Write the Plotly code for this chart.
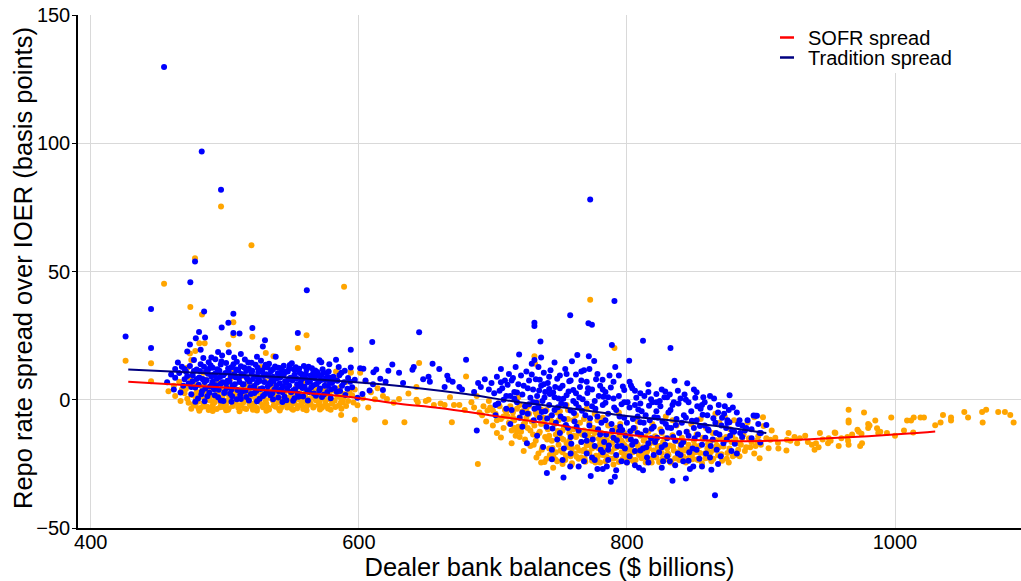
import plotly.graph_objects as go

# ---------------- data ----------------
# SOFR spread observations: (dealer bank balances $bn, spread bp)
SOFR_OUTLIERS = [(454.7,45.2),(474.3,36.2),(483,33.2),(477.8,55.2),(497.2,75.3),(519.9,60.2),(589,44.1),
    (506.4,30.2),(506.4,25.1),(520.6,24.6),(561,25.1),(554.5,20.2),(502.7,21.5),(485,22),(481,22),
    (530.6,18.2),(536.3,17),(426,15.2),(445,14.2),(445,7.2),(772.6,39),(790.7,20.2),(731,17),(731.5,14),
    (645,14.3),(680,9.1),(586.8,-5.9),(597,-7.8),(619.6,-8.8),(634,-8.8),(669.4,-8.8),(688.8,-25),(706,-14.7),
    (474,18),(478,19),(472,12.5),(475,15.5)]
SOFR_LOW = [(458,3.3),(462,5.5),(466,7),(468,4),(463,1.5),(470,2.5),(467,-0.5),
    (471,4.2),(473,-1.2),(475,-3.5),(476,1.8),(477,6.3),(478,-2.2),(479,3),(474,8.5),(472,0.4),(480,-0.8),
    (481,2.6),(482,-3.2),(483,5.1),(484,-1.5),(485,0.9),(486,7.8),(487,-2.7),(488,3.8),(489,-0.3),(490,1.7),(484,10.5),(488,-4),
    (491,-2.1),(492,4.4),(493,0.2),(494,-3.6),(495,2.9),(496,6.6),(497,-1.2),(498,1.1),(499,-2.8),(500,3.5),(493,9),(497,-0.4),(491,5.8),
    (501,-1.7),(502,2.2),(503,-3.3),(504,0.6),(505,5.4),(506,-2.4),(507,1.5),(508,-0.6),(509,3.9),(510,-3),(504,8.2),(507,11.3),(502,-0.2),
    (511,0.8),(512,-2.2),(513,4.7),(514,-1),(515,2),(516,-3.6),(517,6.1),(518,-0.4),(519,1.3),(520,-2.6),(513,9.4),(518,3.2),(516,0.1),
    (521,5.3),(522,-1.4),(523,0.4),(524,-3.2),(525,2.7),(526,-0.8),(527,4.1),(528,-2),(529,1),(530,7.3),(524,-4.2),(527,12.8),(522,2),
    (531,-1.6),(532,3.1),(533,-3.8),(534,0.7),(535,5.6),(536,-0.3),(537,2.4),(538,-2.7),(539,1.6),(540,-1),(534,8.8),(538,4.5),
    (541,0.2),(542,-3.1),(543,3.6),(544,-1.8),(545,1),(546,6.2),(547,-2.4),(548,0.6),(549,2.9),(550,-3.5),(544,10),(548,-0.5),
    (551,1.8),(552,-1.2),(553,4.6),(554,-3.3),(555,0.3),(556,2.5),(557,-2),(558,7),(559,-0.7),(560,1.2),(553,12.5),
    (561,-2.6),(562,3.3),(563,0.4),(564,-1.5),(565,5.2),(566,-3),(567,1.5),(568,-0.2),(569,2.4),(570,-2),(566,9.5),
    (571,0.9),(572,4),(573,-2.5),(574,1.7),(575,-0.8),(576,6.5),(577,-3.4),(578,2.8),(579,0),(580,-1.6),
    (581,3.6),(582,-0.4),(583,8),(584,1.3),(585,-2.2),(586,4.8),(587,0.2),(588,-1),(589,2.2),(590,6.8),
    (592,-0.5),(594,10.8),(595,1.8),(597,4),(599,-2.1),(601,10.5),(603,0.6),(605,7.2),(607,-3),(609,2.9),(612,0.2),(614,4.5),
    (583,11),(594,10.5)]
SOFR_LOW_2 = [(476.5,-1.9),(478.5,0.8),(480.5,-3.4),(482.5,1.3),(484.5,-2.6),(486.5,3),(488.5,0.1),(490.5,-3.8),(492.5,-1),(494.5,2.3),
    (496.5,-2.9),(498.5,4.5),(500.5,-0.9),(502.5,-3.9),(504.5,1.9),(506.5,-1.4),(508.5,2.9),(510.5,-2.1),(512.5,0.6),(514.5,-3.3),
    (516.5,3.9),(518.5,-1.8),(520.5,1.6),(522.5,-3.7),(524.5,0.1),(526.5,2.6),(528.5,-2.9),(530.5,-0.3),(532.5,-3.1),(534.5,1.4),
    (536.5,-2.2),(538.5,0.9),(540.5,-3.6),(542.5,-0.7),(544.5,2.6),(546.5,-3),(548.5,1.1),(550.5,-1.5),(552.5,3.2),(554.5,-2.4),
    (556.5,-0.2),(558.5,-3.6),(560.5,2.8),(562.5,-1.9),(564.5,0.7),(566.5,-2.6),(568.5,3.8),(570.5,-0.9),(572.5,-3.1),(574.5,0.3),
    (576.5,-2.3),(578.5,1.5),(580.5,-0.5),(582.5,-2.8),(584.5,2.5),(586.5,-1.3),(588.5,0.8),(590.5,-2.4),(593,3.1),(596,-1.1),
    (485,5.5),(495,6.8),(505,3.3),(515,5.8),(525,4.2),(535,3.4),(545,4.7),(555,5.2),(565,3.6),(575,4.4),
    (481,-4.3),(491,-4.4),(501,-4.1),(511,-4.5),(521,-3.9),(531,-4.3),(541,-4.2),(551,-3.9),(561,-4.1),(571,-3.8),(579,-3.9),(587,-3.5)]
SOFR_MID = [(618,1.5),(621,0.3),(626,-1.2),(630,0.3),(637,2.4),(643,5),(643,0),(644,-1),(650,-0.5),(652,0),
    (656,-2),(661,-1.5),(664,-2),(668,1),(671,-2),(675,-2),(679,-4),(684,-1),(686,-3),(688,1.5),(690,-5),(693,-2.5),(696,-4.2)]
SOFR_HIGH = [(692,-6),(695,-8.5),(698,-3),(700,-10),(702,-5.5),(704,-1.5),(706,-7.5),(708,-11),(709,-4),(703,-13),(697,-0.5),
    (711,-6.5),(712,-9),(713,-2.5),(714,-12),(715,-5),(716,-8),(717,-14),(718,-3.5),(719,-10.5),(720,-6.8),(714,-17),(719,1),
    (721,-12.5),(722,-4.5),(723,-9.5),(724,-15.5),(725,-7),(726,-11),(727,-2.3),(728,-18),(729,-8.5),(730,-13.5),(723,-20),(727,-5.5),
    (731,-10),(732,-16),(733,-6),(734,-21),(735,-12.5),(736,-3.8),(737,-18.5),(738,-9),(739,-14.5),(740,-23),(733,-1),(736,-24.5),(738,-7),
    (741,-11.5),(742,-19),(743,-6.5),(744,-16),(745,-21.8),(746,-9.5),(747,-13.5),(748,-24),(749,-17.5),(750,-4.5),(742,-14),(745,-26.5),(747,-20.5),(749,-8),
    (751,-15),(752,-20.5),(753,-10.5),(754,-23.5),(755,-17),(756,-7.5),(757,-13),(758,-22),(759,-19),(760,-11.5),(752,-25),(755,-2),(757,-16),(759,-24.8),
    (761,-21),(762,-14.5),(763,-18.5),(764,-23),(765,-9),(766,-16.5),(767,-20),(768,-12),(769,-24.2),(770,-17.8),(762,-6),(764,-13),(766,-22.5),(768,-19.5),(770,-3.5),
    (771,-14),(772,-20.8),(773,-16.5),(774,-23.8),(775,-11),(776,-18.3),(777,-21.8),(778,-8),(779,-15.2),(780,-24.5),(772,-12.5),(774,-19),(776,-5.5),(778,-22.5),(780,-17),
    (781,-13),(782,-21.5),(783,-18),(784,-24),(785,-15.8),(786,-10),(787,-20),(788,-23),(789,-16.8),(790,-12.2),(782,-7),(784,-19.5),(786,-22.8),(788,-14),(790,-25.2),
    (791,-18.8),(792,-22),(793,-15),(794,-24.3),(795,-9.5),(796,-20.5),(797,-17),(798,-13),(799,-23.5),(800,-19.5),(792,-11),(794,-5),(796,-16),(798,-21.5),(800,-24.5),
    (801,-15.5),(802,-22.5),(803,-18),(804,-12),(805,-24),(806,-20),(807,-16.8),(808,-8.5),(809,-21.5),(810,-14),(802,-19.5),(804,-23.5),(806,-11),(808,-17.5),
    (811,-22.8),(812,-18.5),(813,-15),(814,-24.5),(815,-20.3),(816,-12.5),(817,-17.2),(818,-23),(819,-9.5),(820,-19.8),(812,-21),(814,-14.5),(818,-16.2),
    (821,-14.2),(822,-22.5),(823,-18.3),(824,-24.3),(825,-11.5),(826,-20.8),(827,-16.5),(828,-23.5),(829,-6.5),(830,-19),(822,-15.5),(826,-13),
    (831,-21.5),(832,-17.8),(833,-24),(834,-13.8),(835,-19.8),(836,-22.8),(837,-10),(838,-16.2),(839,-23.5),(840,-18.5),(834,-8),(838,-20.5),
    (841,-14.8),(842,-22),(843,-19.3),(844,-24.5),(845,-12.5),(846,-17.5),(847,-21.2),(848,-9.5),(849,-23.2),(850,-16),(844,-19.8),
    (851,-20.5),(852,-13.5),(853,-23.5),(854,-18),(855,-7.5),(856,-24.8),(857,-15.2),(858,-21),(859,-11),(860,-19),
    (861,-22.6),(862,-16.5),(863,-24),(864,-13),(865,-19.5),(866,-5.5),(867,-17.8),(868,-21.6),(869,-9),(870,-15),
    (871,-23.8),(872,-18.2),(873,-6.5),(874,-14.5),(875,-20.8),(876,-24.5),(877,-11.5),(878,-16.5),(879,-22),(880,-8),
    (881,-15.5),(883,-19.5),(885,-17.5),(887,-13.5),(889,-18.5),(890,-8.9),(891,-15),(893,-16.5),(895,-6.8),(896,-18),(898,-14.2),(899,-22.8),(900,-17.5),
    (901.5,-6.8),(902,-10.2),(904,-15),(905.7,-18.9),(907,-15.6),(908,-12),(910.7,-14.8),(912.7,-16.8),(913,-19)]
SOFR_HIGH_2 = [(730.5,-17.5),(732.5,-22.5),(734.5,-13),(736.5,-19.5),(738.5,-24.3),(740.5,-15.5),(742.5,-21.5),(744.5,-18.8),(746.5,-23.2),(748.5,-12.2),
    (750.5,-19.8),(752.5,-15.5),(754.5,-21.8),(756.5,-18.5),(758.5,-25.5),(760.5,-14),(762.5,-22.2),(764.5,-19.8),(766.5,-13.5),(768.5,-23),
    (770.5,-20.5),(772.5,-17.5),(774.5,-14.8),(776.5,-24.5),(778.5,-18.8),(780.5,-21.2),(782.5,-15.5),(784.5,-22),(786.5,-17.5),(788.5,-20.3),
    (790.5,-22.8),(792.5,-18.5),(794.5,-14),(796.5,-23.2),(798.5,-17.8),(800.5,-21.8),(802.5,-14.8),(804.5,-20.5),(806.5,-23.5),(808.5,-18.8),
    (810.5,-21.3),(812.5,-16),(814.5,-22),(816.5,-19),(818.5,-24.5),(820.5,-16.8),(822.5,-20),(824.5,-18),(826.5,-23),(828.5,-15),
    (830.5,-21),(832.5,-24.5),(834.5,-18.2),(836.5,-15.8),(838.5,-22),(840.5,-20.2),(842.5,-16.5),(844.5,-23),(846.5,-19.5),(848.5,-21.8),
    (850.5,-17.8),(852.5,-23.2),(854.5,-20.8),(856.5,-14.8),(858.5,-22.8),(860.5,-17.2),(862.5,-20.5),(864.5,-23),(866.5,-15.8),(868.5,-18.5),
    (870.5,-21.2),(872.5,-16),(874.5,-23),(876.5,-19),(878.5,-13.8),(880.5,-21.5),(882,-17),(884,-22),(886,-15),(888,-20),(892,-18.5),(895,-21),(897,-16),
    (716,-11),(720,-14.5),(724,-9),(728,-12),(732,-5),(736,-9.5),(740,-4),(744,-8.5),(748,-5),(752,-12),(756,-4),(760,-8),(764,-3),(768,-7.5),(772,-9),(776,-13),
    (700,-4.2),(705,-2.5),(710,-4.8),(715,-7),(720,-2),(725,-4),(703,-8),(708,-6.5),(712,-3.8),(718,-12.5)]
SOFR_TAIL = [(919.4,-15.6),(919,-19.8),(920.6,-13),(922,-16),(925,-14.5),(927,-17),(929,-15),(933,-14),(935,-16.5),
    (938,-17.5),(940,-19.5),(941,-17),(943,-18.5),(944,-13),(946,-15.5),(950.6,-15),(950,-17),(952,-16),(955,-12.8),
    (955.5,-13),(958,-18),(960,-15),(964.5,-14.5),(965,-16),(965.4,-17.5),(965.4,-3.9),(965.4,-8.1),(965.4,-8.9),(968,-13.5),
    (972,-11.7),(974,-18),(975.4,-17),(973,-12.5),(975,-13.3),(976.9,-5),(980,-9.5),(980,-11),(981,-10),(985.3,-8.1),
    (986.6,-11.1),(987.5,-13),(989,-12.5),(994,-13),(997.2,-6.9),(1000,-14),(1006.7,-12),(1009,-8.1),(1012,-8.1),
    (1013.6,-12.8),(1014,-6.9),(1019,-6.9),(1021.6,-6.9),(1030,-9.9),(1034,-8.9),(1035.8,-5.9),(1041.8,-6.9),(1041.8,-8.1),
    (1051.7,-4.8),(1054.5,-6.9),(1065,-4.8),(1068,-3.9),(1065.4,-8.9),(1077,-4.8),(1082,-4.8),(1086,-5.9),(1088.5,-8.9)]

# Tradition spread observations
TRAD_OUTLIERS = [(454.7,129.7),(482.8,96.8),(497.2,81.9),(477.8,53.9),(474.3,45.8),(561.2,42.7),(426,24.7),
    (445,35.4),(445,20.2),(484.6,34.4),(506.4,33.5),(502.7,30),(497.7,28.2),(506.4,26),(511,25.8),(520.6,28),
    (480.8,26.4),(485.3,24.3),(478.4,24),(530,23.2),(528.4,20.8),(554.5,26),(772.6,78.1),(790.7,38.5),(757.7,32.9),
    (731,30),(731,28.8),(771.3,29.8),(773.9,29.2),(735.5,22.7),(788.8,21.3),(812,23),(832.5,20.2),(594,19.5)]
TRAD_LOW = [(457,6.8),(460,9.8),(463,12),(466,10.4),(468,12.9),(470,8),(462,4),(469,5.5),(465,14.5),
    (471,11),(472,18.8),(473,6.3),(474,13.2),(475,2.1),(476,9.6),(477,15.5),(478,4.8),(479,11.8),(480,0.5),(474,21.5),(478,-0.8),(476,7.2),
    (481,8.7),(482,13.8),(483,3.3),(484,16.3),(485,6.9),(486,10.9),(487,1.4),(488,14.6),(489,5.2),(490,9.1),(482,19.5),(485,-0.6),(488,12),(484,7.8),
    (491,12.5),(492,4.1),(493,15.8),(494,8.2),(495,1),(496,11.3),(497,6.2),(498,17.3),(499,9.6),(500,3),(493,10.2),(497,13.7),(495,18.6),(499,-0.5),(491,7),
    (501,14.3),(502,7.4),(503,10.8),(504,2.3),(505,12.7),(506,5.5),(507,16.5),(508,8.8),(509,0.2),(510,11.5),(503,18.5),(505,4),(507,9.9),(509,14.8),(501,6.3),
    (511,6.9),(512,13.1),(513,3.2),(514,9.5),(515,15.7),(516,1.1),(517,7.9),(518,12.1),(519,4.8),(520,10.2),(512,17.8),(514,6),(516,11.2),(518,-0.3),(520,14.4),
    (521,8.1),(522,2.6),(523,13.6),(524,6.6),(525,10.7),(526,0.4),(527,15.2),(528,4.5),(529,9.3),(530,12.8),(522,5.4),(524,16.8),(526,7.3),(528,11.4),(530,2.2),
    (531,9.9),(532,5.2),(533,14),(534,1.8),(535,7.6),(536,11.9),(537,3.9),(538,16.8),(539,8.4),(540,0.9),(532,12.6),(534,6.1),(536,9),(538,4.3),(540,12.5),
    (541,6.4),(542,10.6),(543,2.9),(544,13.3),(545,7.2),(546,-0.2),(547,11),(548,5.6),(549,8.6),(550,14.2),(542,4.2),(544,9.8),(546,6.7),(548,12.2),
    (551,3.6),(552,9.7),(553,12.7),(554,6),(555,1.2),(556,10.4),(557,7.8),(558,4.6),(559,13.2),(560,8.5),(552,0.6),(554,11.6),(556,5.3),(558,9.1),
    (561,11.8),(562,6.8),(563,3),(564,9.4),(565,12.3),(566,5.7),(567,8.4),(568,1.6),(569,10.8),(570,7),(562,-0.3),(566,10.5),
    (571,4.4),(572,9.6),(573,11.9),(574,2),(575,7.7),(576,10.3),(577,5.4),(578,8.7),(579,0.6),(580,6.5),(570.6,15.4),
    (581,9),(582,4.6),(583,15.6),(584,7.4),(586,3.4),(587,10.5),(589,6.8),(590,1.9),(592,8.5),(594,12.6),(595,4.9),
    (597,7.8),(599,0.8),(601,12.3),(603.4,12.1),(602.7,2.2),(605,7.5),(608,3.6),(610,22.5),(610.9,10.7),(610.6,6),
    (613,11.8),(616,8.2),(620,7),(618,3.8)]
TRAD_LOW_2 = [(480.5,5.8),(481.5,11.2),(482.5,2.1),(483.5,8.1),(484.5,12.9),(485.5,4.4),(486.5,7.6),(487.5,10.1),(488.5,2.7),(489.5,13.4),
    (490.5,6.1),(491.5,9.7),(492.5,1.8),(493.5,5.7),(494.5,11.9),(495.5,3.9),(496.5,8.9),(497.5,14.9),(498.5,6.8),(499.5,2.6),
    (500.5,10.4),(501.5,4.6),(502.5,12.2),(503.5,7.1),(504.5,9.2),(505.5,1.4),(506.5,13.8),(507.5,6),(508.5,11.8),(509.5,3.8),
    (510.5,8.4),(511.5,1.9),(512.5,10),(513.5,5.9),(514.5,12.6),(515.5,3.5),(516.5,8.6),(517.5,14.5),(518.5,7),(519.5,2.2),
    (520.5,11.3),(521.5,5),(522.5,9.1),(523.5,3.4),(524.5,12.5),(525.5,7.9),(526.5,4.2),(527.5,10.9),(528.5,1.5),(529.5,6.9),
    (530.5,13.6),(531.5,3.1),(532.5,9.4),(533.5,6.5),(534.5,11.1),(535.5,2.5),(536.5,7.3),(537.5,13),(538.5,5.6),(539.5,10.3),
    (540.5,3.2),(541.5,8.8),(542.5,12.4),(543.5,5.3),(544.5,1.2),(545.5,10.9),(546.5,4.3),(547.5,8),(548.5,13.5),(549.5,2.9),
    (550.5,7.5),(551.5,11.9),(552.5,4.1),(553.5,8.3),(554.5,2.3),(555.5,12.1),(556.5,6.4),(557.5,9.9),(558.5,1.3),(559.5,5.1),
    (560.5,10.1),(561.5,3.7),(562.5,12.9),(563.5,7.2),(564.5,4.9),(565.5,8.9),(566.5,2.4),(567.5,11.4),(568.5,6.1),(569.5,9.5),
    (570.5,3.6),(571.5,7.6),(572.5,1.1),(573.5,10.6),(574.5,5.5),(575.5,8.4),(576.5,3),(577.5,11),(578.5,6.9),(579.5,4.1),
    (581.5,7.9),(583.5,3.1),(585.5,9.6),(587.5,5.5),(589.5,11.3),(591.5,4.3),(593.5,7),(585,12.8),(578,13.8),(572,14.6),
    (490,16.5),(497,-0.3),(505,-0.8),(512,0.3),(524,-0.6),(536,0.2),(543,-0.9),(551,-0.4),(463,8.6),(467,2.8),(470,12),
    (472,9.3),(475,5),(477,11.2),(479,8.1)]
TRAD_MID = [(622,11.3),(625,13.7),(630,10.5),(633,6.5),(640,11.7),(641,12.8),(645,26.3),(648,8),(652,9),(653,7),
    (655,14),(660,12),(664,5),(666,9.4),(667,7.8),(670,7),(675,5),(677,4),(680,15.6),(686,3),(688,-12),(689,6.5),
    (691,5),(694,8),(697,4)]
TRAD_HIGH = [(699,6.5),(701,2.5),(703,9),(704,-1.5),(706,12),(707,4.5),(708,0),(709,7.5),(710,-3.5),(702,-6),(705,3.5),
    (711,5.8),(712,10),(713,1.5),(714,-4),(715,8.5),(716,3),(717,12.8),(718,-1),(719,6),(720,-7),(719.6,17.6),(713,-9.5),(716,0.5),
    (721,9.5),(722,2),(723,5.5),(724,-2.5),(725,11),(726,-5.5),(727,7.5),(728,0.8),(729,14),(730,4),(725.4,-17),(722,-10.5),(727,-1.8),(729,9.8),
    (731,-3.5),(732,8),(733,1.5),(734,12.8),(735,-7),(736,5.5),(737,-0.5),(738,10.5),(739,3),(740,-10.5),(731,15.5),(733,-14),(735,7.8),(737.5,-18.4),(739,-4.5),(736,16.5),
    (741,6.5),(742,-2),(743,11.5),(744,-6),(745,2.8),(746,14.5),(747,-9),(748,8.2),(749,0.5),(750,-13),(740.3,-28.6),(744,-23.2),(742,4.2),(746,-4),(748,-15.5),(750,9.5),
    (751,-1.5),(752,5.5),(753,-7.5),(754,12),(755,1.8),(756,-11),(757,7.2),(758,-4.2),(759,15),(760,-0.5),(752.7,-30.3),(757.7,-26),(753,-19),(755,10),(758,-14.5),(760,3.8),
    (761,-8.5),(762,9.8),(763,17.4),(764,-3),(765,5),(766,-16.5),(767,0.2),(768,11.5),(769,-6),(770,-21),(762,2.5),(764,-12),(766,7.5),(768,-24),(770,-1.5),
    (771,4.5),(771.6,17),(772,-10),(773,-29.7),(774,-2.5),(775.6,15.1),(776,-18),(777,8),(778,-6.5),(779,1.5),(780,-13.5),(772,12),(774,-22.5),(776,-0.5),(778,-27),(780,5.5),
    (781,-9),(781.8,7.8),(782,-2),(783,-16.5),(784,3),(785,-26),(786,-5.5),(787,9.5),(788,-32),(789,-12),(790,0.5),(782,-20.5),(784,-8),(786,-23.5),(788,4.8),(790,-14.8),(784,-1.2),
    (791,-30),(791.3,12.8),(792,-4),(793,-18),(794,1.5),(795,-10.5),(796,-24),(797,5.2),(798,-7),(799,-14),(800,-24.5),(801.7,15.2),(792,-21.5),(794,-12.5),(796,-1.8),(798,3.8),(800,-9),
    (802,-3),(803,-15.5),(804,4.5),(805,-11),(806,-20),(807,0.8),(808,-6.5),(809,-26.5),(810,2.5),(804,-17.5),(806,-2),(808,-13),(810,-8.8),(803,5.6),
    (811,-4.5),(812,-19),(813,1.5),(814,-12),(815,-22.5),(816,3),(817,-8),(818,-15),(819,-1),(820,-10.5),(812,-27.5),(814,-6),(816,-17),(818,0.2),
    (821,-16.5),(822,2.2),(823,-7),(824,-20.5),(825,-2.5),(826,-12.5),(827,-24),(828,1),(828.6,3.2),(829,-9.5),(830,-15),(822,-4.5),(826,-18.5),
    (831,-5),(832,-24),(833,-11),(834,-31.6),(835,-1),(835.5,7.4),(836,-16),(837,-7.5),(838,-21),(839,-13),(840,0.5),(832,2),(834,-2),
    (841,-9),(842,-24),(843,2),(844,-30.7),(845,6.4),(846,-14),(847,-27),(848,-4.5),(849,-19),(850,-11),(842,-16.5),(846,-1),(849.5,-26),(844,-7),
    (851,0.8),(852,-8),(853,-13.5),(854,-23),(855,-3.5),(856,-17.5),(857,1),(858,-10),(859,-21),(860,-6),(852,2.9),(858,-1),
    (861,-12),(862,-3),(863,-27.3),(864,-15.5),(865,0.5),(865.7,-37.2),(866,-9),(867,-19.5),(868,-5),(869,-13.5),(870,-22),
    (871,-7),(872,-17),(873,-2.5),(874,-11),(875,-9),(875,-8),(876,-4),(876.6,1.8),(877,-14),(878,-20),(879,-3),(880,-12.5),(882,-21),(882,-5),
    (884,-8),(884.5,-13),(886,-10),(888,-12),(889,-11),(894.5,-6.1),(896,-6.2),(897,-6.2),(898,-9.5),(899,-13),(899.5,-16.7),(900,-13),(904,-9.8),(893,-15)]
TRAD_HIGH_2 = [(730.5,-8),(732.5,-1.2),(734.5,3.6),(736.5,-4.8),(738.5,0.9),(740.5,-7.3),(742.5,2.2),(744.5,-11.2),(746.5,5),(748.5,-2.9),
    (750.5,-6.5),(752.5,0.4),(754.5,-9.8),(756.5,3.2),(758.5,-17.2),(760.5,-5.2),(762.5,-10.5),(764.5,0.9),(766.5,-4.3),(768.5,-13.8),
    (770.5,2.6),(772.5,-7.2),(774.5,-15.5),(776.5,-3.5),(778.5,-11.5),(780.5,-19.5),(782.5,1.2),(784.5,-13.5),(786.5,-17.8),(788.5,-9.5),
    (790.5,-3),(792.5,-15.8),(794.5,-6.5),(796.5,-11.8),(798.5,-19),(800.5,-1),(802.5,-12.3),(804.5,-7.5),(806.5,-16.3),(808.5,-3.8),
    (810.5,-13.5),(812.5,-9),(814.5,-18.5),(816.5,-2.3),(818.5,-11.3),(820.5,-6.8),(822.5,-14.8),(824.5,-0.5),(826.5,-8.5),(828.5,-17.5),
    (830.5,-10.8),(832.5,-4),(834.5,-14.5),(836.5,-9.8),(838.5,-1.5),(840.5,-17.5),(842.5,-6),(844.5,-12.5),(846.5,-20.5),(848.5,-8.2),
    (850.5,-15),(852.5,-2.5),(854.5,-10.2),(856.5,-5.8),(858.5,-14.8),(860.5,-11.5),(862.5,-18),(864.5,-7.2),(866.5,-13),(868.5,-2),
    (870.5,-10),(872.5,-5.5),(874.5,-15.5),(876.5,-8.8),(878.5,-12),(880.5,-17.2),(883,-9.5),(886,-14.5),(890,-8),(893,-11.5),
    (744,-19.5),(752,-23.5),(758,-21),(764,-26),(770,-16),(776,-23.5),(782,-27),(786,-19.5),(792,-27.5),(796,-18),(802,-22),(806,-25.5),
    (810,-19.8),(816,-24.5),(820,-21.5),(826,-26.5),(830,-22),(836,-25.5),(840,-21.5),(846,-23.8),(852,-19.5),(856,-26),(862,-22.5),(868,-25),
    (702,-2),(706,6.8),(710,1.5),(714,7.5),(718,2.8),(722,-5),(726,4.5),(730,-1),(734,-3),(738,6),(742,9),(746,1),(750,4.5),(754,-2),
    (758,7.5),(762,-1.5),(766,11),(770,7),(774,4),(778,10),(782,4),(786,1),(790,7),(794,9.5),(798,-1),(802,7),(806,3.5),(810,-1.5),
    (816,6),(822,-1),(826,4),(830,1),(838,3.5),(844,0),(850,4),(856,-2),(862,1.5)]

# Smoothed fits
SOFR_FIT_X = [428, 450, 480, 510, 540, 570, 600, 630, 660, 700, 740, 780, 820, 860, 900, 940, 980, 1010, 1030]
SOFR_FIT_Y = [7.0, 6.3, 5.4, 4.4, 3.4, 2.2, 0.6, -1.6, -3.2, -6.2, -9.2, -12.4, -14.6, -15.9, -16.1, -15.3, -14.2, -13.2, -12.4]
TRAD_FIT_X = [428, 460, 500, 540, 580, 610, 640, 680, 720, 760, 800, 840, 880, 904]
TRAD_FIT_Y = [11.8, 11.0, 10.0, 8.9, 7.5, 6.3, 4.8, 2.2, -1.0, -3.5, -6.3, -8.5, -11.2, -13.0]

SERIES_NAMES = ["SOFR spread", "Tradition spread"]
LINE_COLORS = ["#ff0000", "#000080"]
X_TICKS = [400, 600, 800, 1000]
Y_TICKS = [-50, 0, 50, 100, 150]
X_TITLE = "Dealer bank balances ($ billions)"
Y_TITLE = "Repo rate spread over IOER (basis points)"
# ------------------------------------------------------------------------

def unzip(*groups):
    pts = [p for g in groups for p in g]
    return [p[0] for p in pts], [p[1] for p in pts]

sx, sy = unzip(SOFR_LOW, SOFR_LOW_2, SOFR_MID, SOFR_HIGH, SOFR_HIGH_2, SOFR_TAIL, SOFR_OUTLIERS)
tx, ty = unzip(TRAD_LOW, TRAD_LOW_2, TRAD_MID, TRAD_HIGH, TRAD_HIGH_2, TRAD_OUTLIERS)

FONT = "Liberation Sans, Arial, sans-serif"
W, H = 1021, 581
ML, MR, MT, MB = 78, 0, 15, 53
PW, PH = W - ML - MR, H - MT - MB

def px_to_paper(px, py):
    return (px - ML) / PW, 1 - (py - MT) / PH

fig = go.Figure()
fig.add_trace(go.Scatter(x=sx, y=sy, mode="markers", showlegend=False, name=SERIES_NAMES[0],
                         marker=dict(color="#ffa500", size=6, line=dict(width=0))))
fig.add_trace(go.Scatter(x=tx, y=ty, mode="markers", showlegend=False, name=SERIES_NAMES[1],
                         marker=dict(color="#0000ff", size=6, line=dict(width=0))))
fig.add_trace(go.Scatter(x=SOFR_FIT_X, y=SOFR_FIT_Y, mode="lines", name=SERIES_NAMES[0], showlegend=False,
                         line=dict(color=LINE_COLORS[0], width=2, shape="spline")))
fig.add_trace(go.Scatter(x=TRAD_FIT_X, y=TRAD_FIT_Y, mode="lines", name=SERIES_NAMES[1], showlegend=False,
                         line=dict(color=LINE_COLORS[1], width=2, shape="spline")))

# legend box (drawn as layout decoration)
bx0, by0 = px_to_paper(773, 0)
bx1, by1 = px_to_paper(961, 73)
shapes = [dict(type="rect", xref="paper", yref="paper", x0=bx0, x1=bx1, y0=by1, y1=by0,
               fillcolor="white", line=dict(width=0), layer="above")]
annotations = []
for i, (name, col) in enumerate(zip(SERIES_NAMES, LINE_COLORS)):
    cy = 37.5 + 20 * i
    lx0, ly = px_to_paper(780, cy)
    lx1, _ = px_to_paper(794, cy)
    tx0, _ = px_to_paper(806, cy)
    shapes.append(dict(type="line", xref="paper", yref="paper", x0=lx0, x1=lx1, y0=ly, y1=ly,
                       line=dict(color=col, width=2.5), layer="above"))
    annotations.append(dict(text=name, xref="paper", yref="paper", x=tx0, y=ly, xanchor="left",
                            yanchor="middle", showarrow=False, font=dict(size=20, family=FONT, color="black")))

# y-axis title placed as a rotated text
ytx, yty = px_to_paper(23, 268)
annotations.append(dict(text=Y_TITLE, xref="paper", yref="paper", x=ytx, y=yty, xanchor="center",
                        yanchor="middle", textangle=-90, showarrow=False,
                        font=dict(size=25.5, family=FONT, color="black")))

fig.update_layout(
    width=W, height=H,
    margin=dict(l=ML, r=MR, t=MT, b=MB, autoexpand=False),
    paper_bgcolor="white", plot_bgcolor="white",
    font=dict(family=FONT, color="black", size=20),
    showlegend=False,
    shapes=shapes, annotations=annotations,
    xaxis=dict(range=[390.5, 1094], tickvals=X_TICKS, showgrid=True, gridcolor="#d9d9d9", gridwidth=1,
               zeroline=False, showline=True, linecolor="black", linewidth=1.5, ticks="",
               tickfont=dict(size=20), ticklabelstandoff=-5, automargin=True,
               title=dict(text=X_TITLE, font=dict(size=25.5), standoff=2)),
    yaxis=dict(range=[-50, 150], tickvals=Y_TICKS, showgrid=True, gridcolor="#d9d9d9", gridwidth=1,
               zeroline=False, showline=True, linecolor="black", linewidth=1.5, ticks="outside",
               ticklen=4, tickcolor="black", tickfont=dict(size=20), ticklabelstandoff=-2),
)

fig.write_html("out.html")
